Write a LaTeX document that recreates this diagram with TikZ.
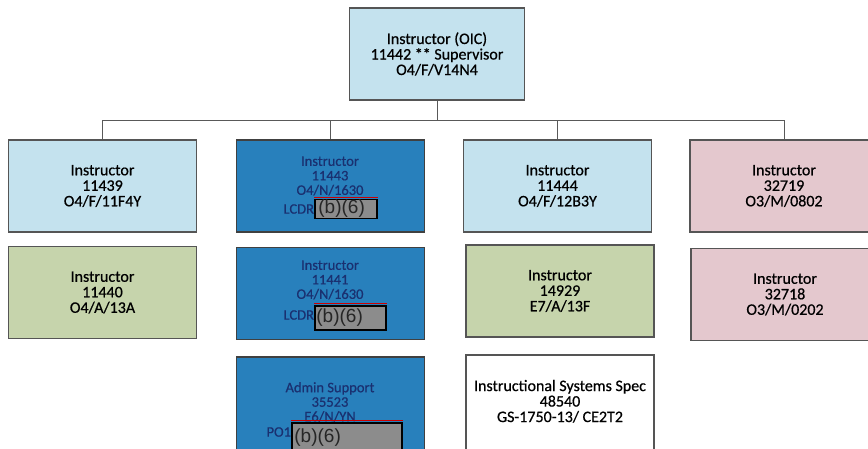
\documentclass[tikz,border=0pt]{standalone}
\usepackage{fontspec}
\setmainfont{Carlito}[FakeBold=0.6]
\newfontfamily\redactfont{Liberation Sans}
\usepackage{tikz}
\usepackage{xcolor}
\definecolor{cLtBlue}{RGB}{196,226,238}
\definecolor{cDkBlue}{RGB}{40,128,188}
\definecolor{cGreen}{RGB}{198,212,172}
\definecolor{cPink}{RGB}{228,200,206}
\definecolor{cLine}{RGB}{85,85,85}
\definecolor{cNavy}{RGB}{26,48,112}
\definecolor{cRedact}{RGB}{140,140,140}

\begin{document}
\begin{tikzpicture}[x=1pt,y=-1pt,font=\fontsize{16}{15.5}\selectfont,
  box/.style={draw=cLine,line width=1.1pt,minimum width=188pt,minimum height=92pt,inner sep=0pt,align=center},
  ltbox/.style={box,fill=cLtBlue},
  dkbox/.style={box,fill=cDkBlue,draw=black!75},
  grbox/.style={box,fill=cGreen},
  pkbox/.style={box,fill=cPink},
  whbox/.style={box,fill=white},
  dktext/.style={inner sep=0pt,align=center,text=cNavy,font=\fontsize{14.5}{14.5}\selectfont},
  redact/.style={draw=black,line width=1.6pt,fill=cRedact,inner sep=0pt},
  redtext/.style={inner sep=0pt,text=black!85,font=\redactfont\fontsize{19}{19}\selectfont},
  link/.style={draw=black!65,line width=0.8pt}]
\useasboundingbox (0,0) rectangle (868,449);
\clip (0,0) rectangle (868,449);
\node[ltbox,minimum width=175pt] (oic) at (437,54) {Instructor (OIC)\\11442 ** Supervisor\\O4/F/V14N4};
\node[ltbox] (i11439) at (102.5,186) {Instructor\\11439\\O4/F/11F4Y};
\node[dkbox] (i11443) at (330.5,186) {};
\node[ltbox] (i11444) at (557.5,186) {Instructor\\11444\\O4/F/12B3Y};
\node[pkbox] (i32719) at (784,186) {Instructor\\32719\\O3/M/0802};
\node[grbox] (i11440) at (102.5,292.5) {Instructor\\11440\\O4/A/13A};
\node[dkbox] (i11441) at (330.5,293.5) {};
\node[grbox] (i14929) at (560,291) {Instructor\\14929\\E7/A/13F};
\node[pkbox] (i32718) at (785,294.5) {Instructor\\32718\\O3/M/0202};
\node[dkbox,minimum height=100pt] (admin) at (330.5,407) {};
\node[whbox,minimum height=100pt,text depth=8pt] (spec) at (560,405) {Instructional Systems Spec\\48540\\GS-1750-13/ CE2T2};
\coordinate (bus) at (437,120);
\draw[link] (oic.south) -- (bus);
\draw[link] (bus) -| (i11439.north);
\draw[link] (bus) -| (i11443.north);
\draw[link] (bus) -| (i11444.north);
\draw[link] (bus) -| (i32719.north);
\node[dktext] (t11443) at (330,176) {Instructor\\11443\\O4/N/1630};
\node[redact,minimum width=62pt,minimum height=19pt] (r11443) at (346,209) {};
\draw[red!80!black,line width=0.8pt] ([yshift=1.6pt]r11443.north west) -- ([yshift=1.6pt]r11443.north east);
\node[redtext,anchor=west] (b11443) at ([xshift=4pt]r11443.west) {(b)(6)};
\node[dktext,anchor=east] (l11443) at (r11443.west) {LCDR};
\node[dktext] (t11441) at (330,280) {Instructor\\11441\\O4/N/1630};
\node[redact,minimum width=71pt,minimum height=24pt] (r11441) at (350.5,318) {};
\draw[red!80!black,line width=0.8pt] ([yshift=1.6pt]r11441.north west) -- ([yshift=1.6pt]r11441.north east);
\node[redtext,anchor=west] (b11441) at ([xshift=2pt]r11441.west) {(b)(6)};
\node[dktext,anchor=east] (l11441) at ([yshift=3pt]r11441.west) {LCDR};
\node[dktext] (tadmin) at (330,402) {Admin Support\\35523\\E6/N/YN};
\node[redact,minimum width=110pt,minimum height=40pt] (radmin) at (347,443) {};
\draw[red!80!black,line width=0.8pt] ([yshift=1.6pt]radmin.north west) -- ([yshift=1.6pt]radmin.north east);
\node[redtext,anchor=west] (badmin) at ([xshift=3pt,yshift=5pt]radmin.west) {(b)(6)};
\node[dktext,anchor=east] (ladmin) at ([yshift=11pt]radmin.west) {PO1};
\end{tikzpicture}
\end{document}
